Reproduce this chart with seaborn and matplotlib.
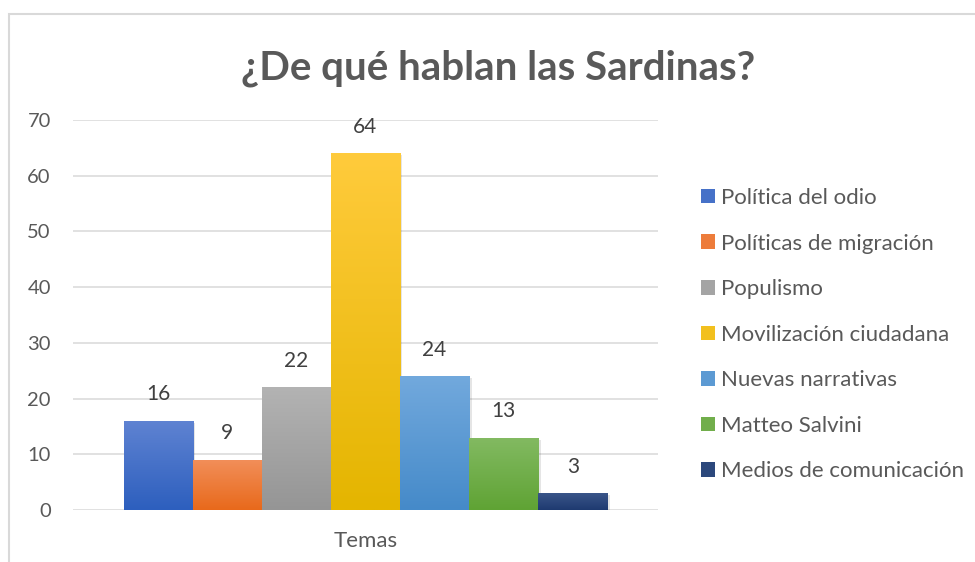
import numpy as np
import pandas as pd
import matplotlib
matplotlib.use("Agg")
import matplotlib.pyplot as plt
import matplotlib.colors as mcolors
from matplotlib.patches import Rectangle
import seaborn as sns

# ---- data ----
categoria = ["Temas"]
series = ["Política del odio", "Políticas de migración", "Populismo",
          "Movilización ciudadana", "Nuevas narrativas", "Matteo Salvini",
          "Medios de comunicación"]
valores = [16, 9, 22, 64, 24, 13, 3]
colores_top = ["#5F83D2", "#F28F5A", "#B3B3B3", "#FFCB3C", "#72A9DD", "#83BA62", "#3A5589"]
colores_bot = ["#2D5FBE", "#E8691B", "#959595", "#E4B500", "#458AC9", "#5FA334", "#1E3A70"]
yticks = [0, 10, 20, 30, 40, 50, 60, 70]
titulo = "¿De qué hablan las Sardinas?"

df = pd.DataFrame({"tema": categoria * len(series), "serie": series, "valor": valores})

sns.set_theme(style="white")
plt.rcParams["font.family"] = ["Lato", "DejaVu Sans"]
gray_txt = "#595959"

fig = plt.figure(figsize=(9.75, 5.62), dpi=100)
ax = fig.add_axes([73 / 975, 1 - 510 / 562, 585 / 975, 390 / 562])

mid_cols = [mcolors.to_hex((np.array(mcolors.to_rgb(a)) + np.array(mcolors.to_rgb(b))) / 2)
            for a, b in zip(colores_top, colores_bot)]
sns.barplot(data=df, x="tema", y="valor", hue="serie", hue_order=series,
            palette=mid_cols, width=0.827, legend=False, ax=ax,
            saturation=1, linewidth=0)

ax.set_xlim(-0.5, 0.5)
ax.set_ylim(0, 70)
ax.set_yticks(yticks)
ax.yaxis.grid(True, color="#D9D9D9", linewidth=1.1)
ax.set_axisbelow(True)
for s in ax.spines.values():
    s.set_visible(False)
ax.tick_params(axis="both", length=0, labelsize=14.5, colors=gray_txt)
ax.tick_params(axis="y", pad=16)
ax.tick_params(axis="x", pad=15, labelsize=16)
ax.set_xlabel("")
ax.set_ylabel("")

# gradient fills clipped to bars
grad = np.linspace(0, 1, 256).reshape(-1, 1)
for i, cont in enumerate(ax.containers):
    top = np.array(mcolors.to_rgb(colores_top[i]))
    bot = np.array(mcolors.to_rgb(colores_bot[i]))
    img = bot[None, None, :] * (1 - grad[:, :, None]) + top[None, None, :] * grad[:, :, None]
    for p in cont.patches:
        x0, y0 = p.get_x(), p.get_y()
        w, h = p.get_width(), p.get_height()
        # soft shadow
        ax.add_patch(Rectangle((x0 + 0.004, y0), w, h - 0.35, facecolor="black",
                               alpha=0.10, linewidth=0, zorder=p.get_zorder() - 0.1))
        im = ax.imshow(img, extent=[x0, x0 + w, y0, y0 + h], origin="lower",
                       aspect="auto", zorder=p.get_zorder() + 0.1, interpolation="bilinear")
        im.set_clip_path(p)
    ax.bar_label(cont, labels=[str(valores[i])], padding=12, fontsize=15, color="#404040")

ax.set_xlim(-0.5, 0.5)
ax.set_ylim(0, 70)

# title
fig.text(498 / 975, 1 - 68 / 562, titulo, ha="center", va="center",
         fontsize=29, fontweight="bold", color=gray_txt)

# legend
handles = [Rectangle((0, 0), 1, 1, facecolor=c, edgecolor="none") for c in mid_cols]
leg = fig.legend(handles, series, loc="upper left",
                 bbox_to_anchor=(701 / 975, 1 - 188 / 562), frameon=False,
                 fontsize=16, handlelength=0.63, handleheight=0.63,
                 handletextpad=0.27, labelspacing=1.15, borderpad=0, borderaxespad=0)
for t in leg.get_texts():
    t.set_color(gray_txt)

# chart-area frame (top and left visible)
fig.add_artist(Rectangle((9 / 975, -0.2), 1.2, 1 - 14 / 562 + 0.2,
                         transform=fig.transFigure, facecolor="none",
                         edgecolor="#D9D9D9", linewidth=1.5))

fig.savefig("out.png", dpi=100)
